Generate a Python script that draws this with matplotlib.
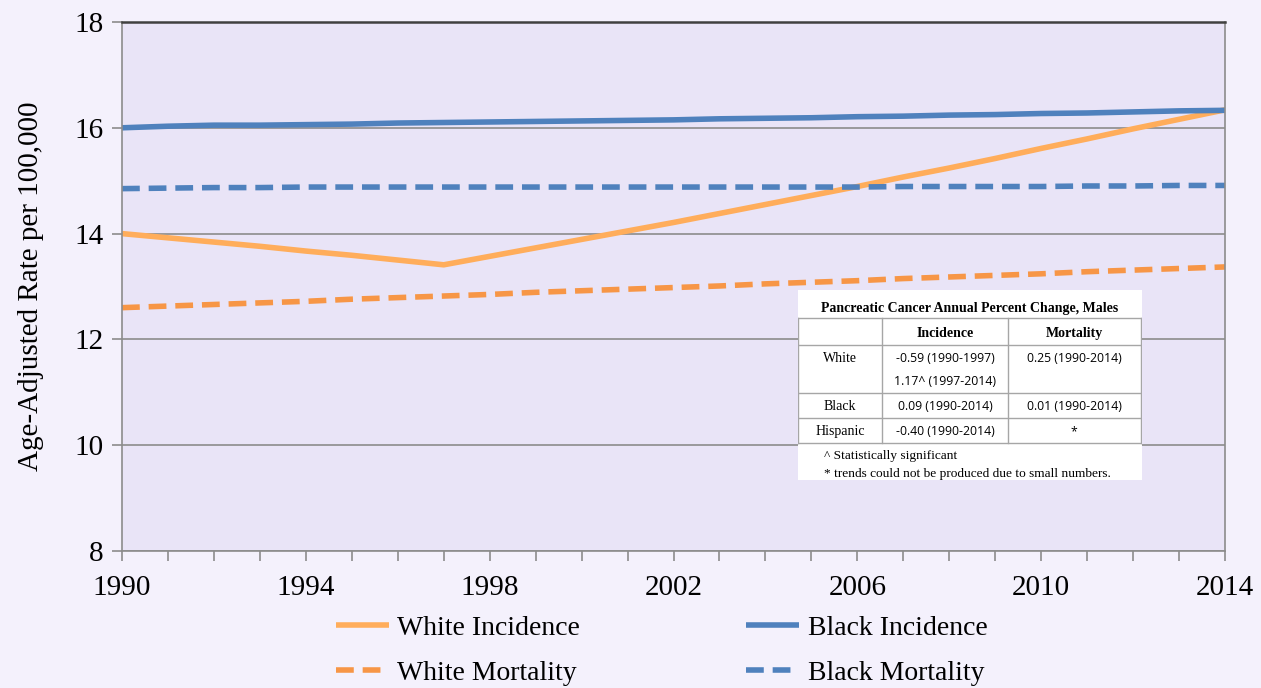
import matplotlib.pyplot as plt
from matplotlib.ticker import MultipleLocator

years = list(range(1990, 2015))

white_incidence = [14.00, 13.92, 13.84, 13.76, 13.67, 13.59, 13.50, 13.41,
                   13.57, 13.73, 13.89, 14.05, 14.21, 14.38, 14.55, 14.72,
                   14.89, 15.07, 15.24, 15.42, 15.61, 15.79, 15.98, 16.16, 16.34]
black_incidence = [16.00, 16.03, 16.05, 16.05, 16.06, 16.07, 16.09, 16.10,
                   16.11, 16.12, 16.13, 16.14, 16.15, 16.17, 16.18, 16.19,
                   16.21, 16.22, 16.24, 16.25, 16.27, 16.28, 16.30, 16.32, 16.33]
white_mortality = [12.60, 12.63, 12.66, 12.69, 12.72, 12.76, 12.79, 12.82,
                   12.85, 12.89, 12.92, 12.95, 12.98, 13.01, 13.05, 13.08,
                   13.11, 13.15, 13.18, 13.21, 13.24, 13.28, 13.31, 13.34, 13.37]
black_mortality = [14.85, 14.86, 14.87, 14.87, 14.88, 14.88, 14.88, 14.88,
                   14.88, 14.88, 14.88, 14.88, 14.88, 14.88, 14.88, 14.88,
                   14.88, 14.89, 14.89, 14.89, 14.89, 14.90, 14.90, 14.91, 14.91]

table_title = "Pancreatic Cancer Annual Percent Change, Males"
col_headers = ["Incidence", "Mortality"]
row_labels = ["White", "Black", "Hispanic"]
incidence_apc = [["-0.59 (1990-1997)", "1.17^ (1997-2014)"], ["0.09 (1990-2014)"], ["-0.40 (1990-2014)"]]
mortality_apc = ["0.25 (1990-2014)", "0.01 (1990-2014)", "*"]
footnotes = ["^ Statistically significant", "* trends could not be produced due to small numbers."]

plt.rcParams['font.family'] = ['Liberation Serif', 'DejaVu Serif']

W, H = 1261, 688
fig = plt.figure(figsize=(W / 100, H / 100), dpi=100, facecolor='#F4F1FC')
ax = fig.add_axes([122 / W, (H - 551) / H, 1103 / W, 529 / H], facecolor='#E9E4F7')

lw = 4
ln_wi, = ax.plot(years, white_incidence, color='#FFAD5B', lw=lw, label='White Incidence', solid_capstyle='butt')
ln_bi, = ax.plot(years, black_incidence, color='#4F81BD', lw=lw, label='Black Incidence', solid_capstyle='butt')
ln_wm, = ax.plot(years, white_mortality, color='#F79646', lw=lw, dashes=(3.2, 1.6), label='White Mortality')
ln_bm, = ax.plot(years, black_mortality, color='#4F81BD', lw=lw, dashes=(3.2, 1.6), label='Black Mortality')

ax.set_xlim(1990, 2014)
ax.set_ylim(8, 18)
ax.set_xticks(range(1990, 2015, 4))
ax.xaxis.set_minor_locator(MultipleLocator(1))
ax.yaxis.set_major_locator(MultipleLocator(2))
ax.grid(axis='y', color='#8C8C8C', lw=1.2)
ax.set_axisbelow(True)
for s in ['left', 'right', 'bottom']:
    ax.spines[s].set_color('#8C8C8C')
    ax.spines[s].set_linewidth(1.2)
ax.spines['top'].set_color('#404040')
ax.spines['top'].set_linewidth(1.8)
ax.tick_params(axis='both', which='both', direction='out', color='#8C8C8C', width=1.2)
ax.tick_params(axis='x', which='major', length=7, labelsize=21, pad=10)
ax.tick_params(axis='x', which='minor', length=7)
ax.tick_params(axis='y', length=7, labelsize=21, pad=6)
ax.set_ylabel('Age-Adjusted Rate per 100,000', fontsize=21, labelpad=22)

# row-wise legend order: incidence on top, mortality below
fig.legend([ln_wi, ln_wm, ln_bi, ln_bm],
           ['White Incidence', 'White Mortality', 'Black Incidence', 'Black Mortality'],
           loc='upper center', bbox_to_anchor=(0.5246, 0.142), ncol=2, frameon=False,
           fontsize=20, handlelength=1.9, columnspacing=6.0, labelspacing=0.72, handletextpad=0.3)

# APC summary table as an inset
tx = fig.add_axes([798 / W, (H - 480) / H, 344 / W, 190 / H])
tx.set_xlim(0, 344)
tx.set_ylim(190, 0)
tx.axis('off')
tx.add_patch(plt.Rectangle((0, 0), 344, 190, facecolor='white', edgecolor='none'))
cols = [0, 84, 210, 343]
rows = [28, 55, 103, 128, 153]
line_kw = dict(color='#A6A6A6', lw=1)
for y in rows:
    tx.plot([0, 343], [y, y], **line_kw)
for x in cols:
    tx.plot([x, x], [rows[0], rows[-1]], **line_kw)
tx.text(172, 22, table_title, ha='center', va='baseline', fontsize=10, fontweight='bold')
for i, h in enumerate(col_headers):
    tx.text((cols[i + 1] + cols[i + 2]) / 2, 47, h, ha='center', va='baseline', fontsize=10, fontweight='bold')
sans = ['Open Sans', 'DejaVu Sans']
row_tops = [55, 103, 128]
for i, lab in enumerate(row_labels):
    tx.text(42, row_tops[i] + 17, lab, ha='center', va='baseline', fontsize=10)
    for k, v in enumerate(incidence_apc[i]):
        tx.text(147, row_tops[i] + 17 + k * 23, v, ha='center', va='baseline', fontsize=8.8, family=sans)
    tx.text(276, row_tops[i] + 17, mortality_apc[i], ha='center', va='baseline', fontsize=8.8, family=sans)
tx.text(26, 169, footnotes[0], ha='left', va='baseline', fontsize=9.6)
tx.text(26, 187, footnotes[1], ha='left', va='baseline', fontsize=9.6)

fig.savefig('out.png', dpi=100, facecolor=fig.get_facecolor())
